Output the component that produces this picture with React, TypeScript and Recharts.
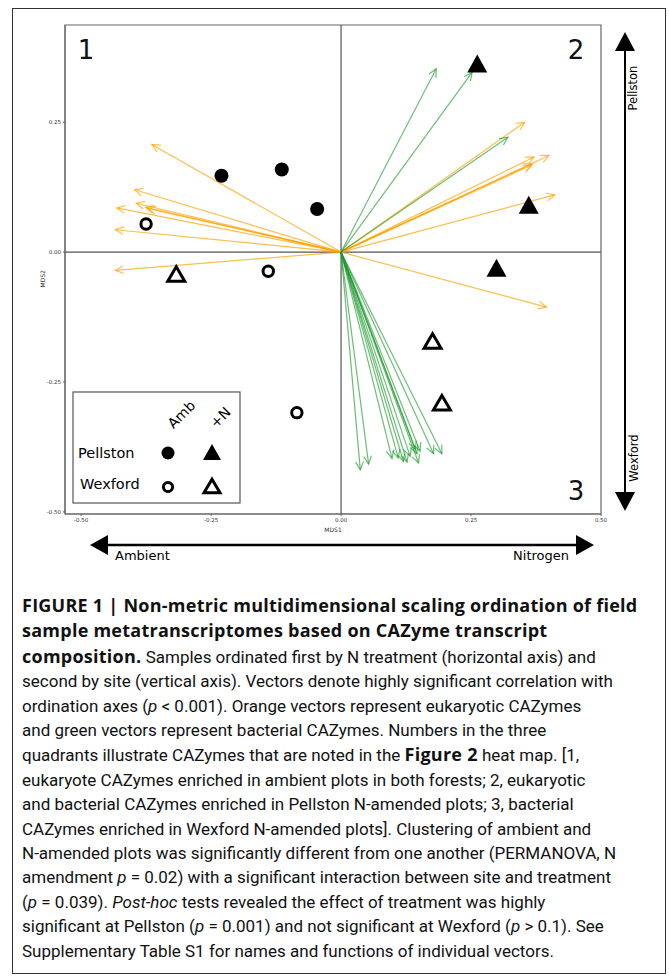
import React from "react";
import {
  ScatterChart, Scatter, XAxis, YAxis, ReferenceLine, ReferenceArea,
} from "recharts";

// sample scores (MDS1, MDS2)
const pellstonAmb = [
  { x: -0.23, y: 0.147 }, { x: -0.114, y: 0.159 }, { x: -0.046, y: 0.083 },
];
const wexfordAmb = [
  { x: -0.375, y: 0.054 }, { x: -0.14, y: -0.037 }, { x: -0.085, y: -0.309 },
];
const pellstonN = [
  { x: 0.262, y: 0.363 }, { x: 0.361, y: 0.091 }, { x: 0.299, y: -0.03 },
];
const wexfordN = [
  { x: -0.317, y: -0.042 }, { x: 0.176, y: -0.171 }, { x: 0.194, y: -0.29 },
];

// vector tips (eukaryotic = orange, bacterial = green)
const eukVectors = [
  [-0.364, 0.207], [-0.397, 0.12], [-0.431, 0.085], [-0.394, 0.094],
  [-0.376, 0.086], [-0.372, 0.084], [-0.434, 0.043], [-0.434, -0.035],
  [0.353, 0.25], [0.371, 0.183], [0.4, 0.186], [0.368, 0.17],
  [0.366, 0.167], [0.411, 0.11], [0.395, -0.106],
];
const bactVectors = [
  [0.183, 0.353], [0.252, 0.346], [0.321, 0.221],
  [0.037, -0.419], [0.053, -0.408], [0.098, -0.397], [0.11, -0.396],
  [0.12, -0.403], [0.127, -0.404], [0.133, -0.393], [0.146, -0.388],
  [0.149, -0.406], [0.152, -0.383], [0.143, -0.38], [0.178, -0.388],
  [0.194, -0.388],
];

const xTicks = [-0.5, -0.25, 0, 0.25, 0.5];
const yTicks = [-0.5, -0.25, 0, 0.25];
const X_DOMAIN = [-0.531, 0.5];
const Y_DOMAIN = [-0.504, 0.437];

type Seg = { t: string; b?: boolean; i?: boolean };
const captionLines: Seg[][] = [
  [{ t: "FIGURE 1 | Non-metric multidimensional scaling ordination of field", b: true }],
  [{ t: "sample metatranscriptomes based on CAZyme transcript", b: true }],
  [{ t: "composition.", b: true }, { t: " Samples ordinated first by N treatment (horizontal axis) and" }],
  [{ t: "second by site (vertical axis). Vectors denote highly significant correlation with" }],
  [{ t: "ordination axes (" }, { t: "p", i: true }, { t: " < 0.001). Orange vectors represent eukaryotic CAZymes" }],
  [{ t: "and green vectors represent bacterial CAZymes. Numbers in the three" }],
  [{ t: "quadrants illustrate CAZymes that are noted in the " }, { t: "Figure 2", b: true }, { t: " heat map. [1," }],
  [{ t: "eukaryote CAZymes enriched in ambient plots in both forests; 2, eukaryotic" }],
  [{ t: "and bacterial CAZymes enriched in Pellston N-amended plots; 3, bacterial" }],
  [{ t: "CAZymes enriched in Wexford N-amended plots]. Clustering of ambient and" }],
  [{ t: "N-amended plots was significantly different from one another (PERMANOVA, N" }],
  [{ t: "amendment " }, { t: "p", i: true }, { t: " = 0.02) with a significant interaction between site and treatment" }],
  [{ t: "(" }, { t: "p", i: true }, { t: " = 0.039). " }, { t: "Post-hoc", i: true }, { t: " tests revealed the effect of treatment was highly" }],
  [{ t: "significant at Pellston (" }, { t: "p", i: true }, { t: " = 0.001) and not significant at Wexford (" }, { t: "p", i: true }, { t: " > 0.1). See" }],
  [{ t: "Supplementary Table S1 for names and functions of individual vectors." }],
];

const FONT = "'DejaVu Sans', sans-serif";

function FilledCircle({ cx, cy, r = 7 }: any) {
  return <circle cx={cx} cy={cy} r={r} fill="#000" />;
}
function OpenCircle({ cx, cy, r = 5.2 }: any) {
  return <circle cx={cx} cy={cy} r={r} fill="none" stroke="#000" strokeWidth={3} />;
}
function FilledTri({ cx, cy, s = 10 }: any) {
  const h = s * 1.8;
  return (
    <polygon
      points={`${cx},${cy - h / 2} ${cx + s},${cy + h / 2} ${cx - s},${cy + h / 2}`}
      fill="#000"
    />
  );
}
function OpenTri({ cx, cy, s = 8.5 }: any) {
  const h = s * 1.7;
  return (
    <polygon
      points={`${cx},${cy - h / 2} ${cx + s},${cy + h / 2} ${cx - s},${cy + h / 2}`}
      fill="none"
      stroke="#000"
      strokeWidth={3}
      strokeLinejoin="miter"
    />
  );
}

// a line from origin with an open arrowhead at the tip
function vectorShape(color: string, opacity: number) {
  return (p: any) => {
    const { x1, y1, x2, y2 } = p;
    const ang = Math.atan2(y2 - y1, x2 - x1);
    const len = 9;
    const spread = 0.45;
    const a1 = ang + Math.PI - spread;
    const a2 = ang + Math.PI + spread;
    return (
      <g stroke={color} strokeOpacity={opacity} strokeWidth={1.2} fill="none">
        <line x1={x1} y1={y1} x2={x2} y2={y2} />
        <polyline
          points={`${x2 + len * Math.cos(a1)},${y2 + len * Math.sin(a1)} ${x2},${y2} ${x2 + len * Math.cos(a2)},${y2 + len * Math.sin(a2)}`}
        />
      </g>
    );
  };
}

export default function App() {
  const tickStyle = { fontSize: 5.5, fill: "#333", fontFamily: FONT };
  return (
    <div
      style={{
        position: "absolute", left: 0, top: 0, width: 669, height: 976,
        background: "#fff", overflow: "hidden",
      }}
    >
      <div
        style={{
          position: "absolute", left: 12, top: 8, width: 654, height: 966,
          border: "1.5px solid #333", boxSizing: "border-box",
        }}
      />
      <div style={{ position: "absolute", left: 0, top: 0 }}>
        <ScatterChart
          width={669}
          height={560}
          margin={{ top: 25, right: 68, left: 51, bottom: 32 }}
        >
          <XAxis
            type="number"
            dataKey="x"
            domain={X_DOMAIN}
            ticks={xTicks}
            allowDataOverflow
            height={14}
            tickSize={2}
            tick={tickStyle}
            tickFormatter={(v: number) => v.toFixed(2)}
            stroke="#666"
            label={{ value: "MDS1", position: "insideBottom", offset: -4, fontSize: 6, fill: "#333", fontFamily: FONT }}
          />
          <YAxis
            type="number"
            dataKey="y"
            domain={Y_DOMAIN}
            ticks={yTicks}
            allowDataOverflow
            width={14}
            tickSize={2}
            tick={tickStyle}
            tickFormatter={(v: number) => v.toFixed(2)}
            stroke="#666"
            label={{ value: "MDS2", angle: -90, position: "insideLeft", offset: -8, dy: 18, fontSize: 6, fill: "#333", fontFamily: FONT }}
          />
          <ReferenceArea
            x1={X_DOMAIN[0]} x2={X_DOMAIN[1]} y1={Y_DOMAIN[0]} y2={Y_DOMAIN[1]}
            fill="none" stroke="#666" strokeWidth={1.2}
          />
          <ReferenceLine x={0} stroke="#555" strokeWidth={1.2} />
          <ReferenceLine y={0} stroke="#555" strokeWidth={1.2} />

          {eukVectors.map(([vx, vy], i) => (
            <ReferenceLine
              key={`e${i}`}
              segment={[{ x: 0, y: 0 }, { x: vx, y: vy }]}
              shape={vectorShape("#ffa200", 0.7)}
            />
          ))}
          {bactVectors.map(([vx, vy], i) => (
            <ReferenceLine
              key={`b${i}`}
              segment={[{ x: 0, y: 0 }, { x: vx, y: vy }]}
              shape={vectorShape("#1f9a2e", 0.65)}
            />
          ))}

          <Scatter data={pellstonAmb} shape={(p: any) => <FilledCircle cx={p.cx} cy={p.cy} />} isAnimationActive={false} />
          <Scatter data={wexfordAmb} shape={(p: any) => <OpenCircle cx={p.cx} cy={p.cy} />} isAnimationActive={false} />
          <Scatter data={pellstonN} shape={(p: any) => <FilledTri cx={p.cx} cy={p.cy} />} isAnimationActive={false} />
          <Scatter data={wexfordN} shape={(p: any) => <OpenTri cx={p.cx} cy={p.cy} />} isAnimationActive={false} />
        </ScatterChart>
      </div>

      {/* quadrant numbers, legend and direction arrows */}
      <svg
        width={669}
        height={580}
        style={{ position: "absolute", left: 0, top: 0, pointerEvents: "none" }}
        fontFamily={FONT}
      >
        <text x={86} y={59} fontSize={26} textAnchor="middle" fill="#111">1</text>
        <text x={576} y={59} fontSize={26} textAnchor="middle" fill="#111">2</text>
        <text x={576} y={500} fontSize={26} textAnchor="middle" fill="#111">3</text>

        <rect x={73} y={392} width={167} height={111} fill="#fff" stroke="#555" strokeWidth={1.2} />
        <text x={182} y={415} fontSize={14} textAnchor="middle" dominantBaseline="middle" transform="rotate(-45 182 415)">Amb</text>
        <text x={221} y={418} fontSize={14} textAnchor="middle" dominantBaseline="middle" transform="rotate(-45 221 418)">+N</text>
        <text x={78} y={458} fontSize={14.5}>Pellston</text>
        <text x={80} y={489} fontSize={14.5}>Wexford</text>
        <FilledCircle cx={168} cy={453} r={6.5} />
        <FilledTri cx={212} cy={452} s={9} />
        <OpenCircle cx={168} cy={487} r={4.6} />
        <OpenTri cx={212} cy={486} s={8} />

        {/* horizontal treatment arrow */}
        <line x1={104} y1={545} x2={580} y2={545} stroke="#000" strokeWidth={2.5} />
        <polygon points="90,545 108,535 108,555" fill="#000" />
        <polygon points="594,545 576,535 576,555" fill="#000" />
        <text x={115} y={560} fontSize={13}>Ambient</text>
        <text x={569} y={560} fontSize={13} textAnchor="end">Nitrogen</text>

        {/* vertical site arrow */}
        <line x1={625} y1={48} x2={625} y2={495} stroke="#000" strokeWidth={2} />
        <polygon points="625,32 615,51 635,51" fill="#000" />
        <polygon points="625,511 615,492 635,492" fill="#000" />
        <text x={637} y={88} fontSize={11.5} textAnchor="middle" transform="rotate(-90 637 88)">Pellston</text>
        <text x={638} y={458} fontSize={11.5} textAnchor="middle" transform="rotate(-90 638 458)">Wexford</text>
      </svg>

      <div
        style={{
          position: "absolute", left: 22, top: 593,
          fontFamily: "Roboto, 'Liberation Sans', sans-serif",
          fontSize: 17, lineHeight: "24.4px", color: "#111",
        }}
      >
        {captionLines.map((line, i) => (
          <div key={i} style={{ whiteSpace: "nowrap" }}>
            {line.map((s, j) => (
              <span
                key={j}
                style={
                  s.b
                    ? { fontWeight: 700, fontFamily: "'Open Sans', sans-serif", fontSize: 18, letterSpacing: 0.25 }
                    : { fontStyle: s.i ? "italic" : "normal" }
                }
              >
                {s.t}
              </span>
            ))}
          </div>
        ))}
      </div>
    </div>
  );
}
